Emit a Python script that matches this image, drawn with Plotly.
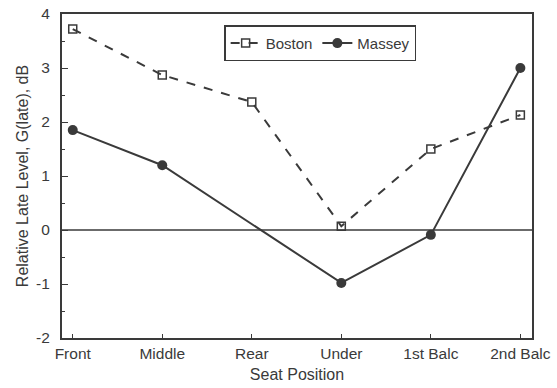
import plotly.graph_objects as go

categories = ["Front", "Middle", "Rear", "Under", "1st Balc", "2nd Balc"]
boston = [3.72, 2.87, 2.37, 0.07, 1.50, 2.13]
massey = [1.85, 1.20, None, -0.98, -0.09, 3.00]
y_ticks = [-2, -1, 0, 1, 2, 3, 4]
y_labels = ["-2", "-1", "0", "1", "2", "3", "4"]

x_idx = list(range(len(categories)))
ink = "#3a3a3a"
font = "Liberation Sans, Arial, sans-serif"

fig = go.Figure()
fig.add_trace(go.Scatter(
    x=x_idx, y=boston, name="Boston", mode="lines+markers",
    line=dict(color=ink, width=2, dash="dash"),
    marker=dict(symbol="square-open", size=8, color=ink, line=dict(width=1.5, color=ink)),
))
fig.add_trace(go.Scatter(
    x=x_idx, y=massey, name="Massey", mode="lines+markers", connectgaps=True,
    line=dict(color=ink, width=2),
    marker=dict(symbol="circle", size=10, color=ink),
))
fig.add_hline(y=0, line=dict(color=ink, width=1.5))

fig.update_layout(
    width=557, height=388,
    margin=dict(l=62, r=25, t=14, b=50, autoexpand=False),
    paper_bgcolor="white", plot_bgcolor="white",
    font=dict(family=font, color=ink, size=15),
    showlegend=True,
    legend=dict(
        orientation="h", x=0.345, y=0.965, xanchor="left", yanchor="top",
        bordercolor=ink, borderwidth=1.5, bgcolor="white",
        font=dict(size=15, family=font, color=ink),
        itemwidth=30, tracegroupgap=0,
    ),
    xaxis=dict(
        range=[-0.12, 5.13], tickmode="array", tickvals=x_idx, ticktext=categories,
        showline=True, linecolor=ink, linewidth=2, mirror=True, automargin=False,
        ticks="inside", ticklen=4, tickcolor=ink, showgrid=False, zeroline=False,
        title=dict(text="Seat Position", font=dict(size=16), standoff=8),
        tickfont=dict(size=15.5),
    ),
    yaxis=dict(
        range=[-2, 4], tickmode="array", tickvals=y_ticks, ticktext=y_labels,
        showline=True, linecolor=ink, linewidth=2, mirror=True, automargin=False,
        ticks="inside", ticklen=6, tickcolor=ink, showgrid=False, zeroline=False,
        ticklabelstandoff=7,
        minor=dict(ticks="inside", ticklen=3, dtick=0.5, tickcolor=ink, showgrid=False),
        title=dict(text="Relative Late Level, G(late), dB", font=dict(size=16), standoff=4),
        tickfont=dict(size=15.5),
    ),
)

fig.write_html("out.html", config={"displayModeBar": False},
               post_script="document.body.style.margin='0';")
